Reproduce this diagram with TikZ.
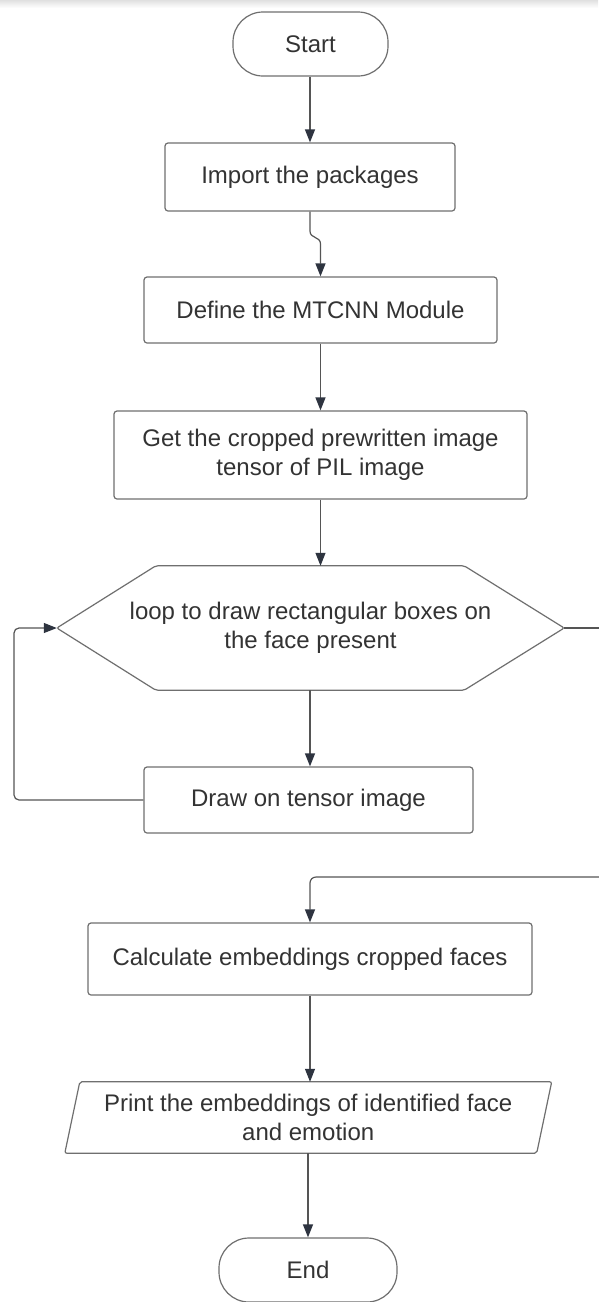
\documentclass[tikz,border=0pt]{standalone}
\usepackage{fontspec}
\setmainfont{Liberation Sans}
\usetikzlibrary{arrows.meta,calc}
\definecolor{edge}{HTML}{6F6F6F}
\definecolor{wirec}{HTML}{555555}
\definecolor{tipc}{HTML}{2E3440}
\definecolor{ink}{HTML}{333333}
\begin{document}
\begin{tikzpicture}[x=1pt,y=-1pt, font=\fontsize{24}{29.5}\selectfont, text=ink,
 box/.style={draw=edge, line width=1.2pt, rounded corners=3pt, inner sep=0pt, align=center},
 term/.style={box, rounded corners=30pt},
 bare/.style={inner sep=0pt, align=center},
 shapeline/.style={draw=edge, line width=1.2pt, rounded corners=2pt},
 arr/.style={draw=wirec, line width=1.2pt, -{Triangle[length=13pt,width=10pt,color=tipc]}},
 wire/.style={draw=wirec, line width=1.2pt}]
\fill[white] (0,0) rectangle (598,1302);
\shade[top color=black!12, bottom color=white] (0,0) rectangle (598,8);
\useasboundingbox (0,0) rectangle (598,1302);

\node[term, minimum width=155pt, minimum height=64pt] (start) at (310.5,44) {Start};
\node[box, minimum width=290pt, minimum height=68pt] (import) at (310,177) {Import the packages};
\node[box, minimum width=353pt, minimum height=66pt] (define) at (320.5,310) {Define the MTCNN Module};
\node[box, minimum width=413pt, minimum height=88pt] (get) at (320.5,455) {Get the cropped prewritten image\\tensor of PIL image};
\node[bare, minimum width=507pt, minimum height=124pt] (hex) at (310.5,628) {loop to draw rectangular boxes on\\the face present};
\draw[shapeline] (hex.west) -- ([xshift=99pt]hex.north west) -- ([xshift=-100pt]hex.north east) -- (hex.east) -- ([xshift=-100pt]hex.south east) -- ([xshift=99pt]hex.south west) -- cycle;
\node[box, minimum width=329pt, minimum height=66pt] (drawbox) at (308.5,800) {Draw on tensor image};
\node[box, minimum width=444pt, minimum height=72pt] (calc) at (310,959) {Calculate embeddings cropped faces};
\node[bare, minimum width=471.5pt, minimum height=71pt] (print) at (308.25,1117.5) {Print the embeddings of identified face\\and emotion};
\draw[shapeline] ([xshift=7.5pt]print.north west) -- ([xshift=7.5pt]print.north east) -- ([xshift=-7.5pt]print.south east) -- ([xshift=-7.5pt]print.south west) -- cycle;
\node[term, minimum width=178pt, minimum height=64pt] (end) at (308,1270) {End};

\coordinate (k1) at (310,231);
\coordinate (k2) at (320.5,244);
\coordinate (loopL) at (14,0);
\coordinate (rimA) at (600,628);
\coordinate (rimB) at (600,877);

\draw[arr] (start.south -| import.north) -- (import.north);
\draw[arr] (import.south) -- (k1) .. controls (310,239) and (320.5,236) .. (k2) -- (define.north);
\draw[arr] (define.south) -- (get.north);
\draw[arr] (get.south) -- (get.south |- hex.north);
\draw[arr] (hex.south -| drawbox.north) ++(1.5,0) -- ($(drawbox.north)+(1.5,0)$);
\draw[arr, rounded corners=5pt] (drawbox.west) -- (drawbox.west -| loopL) -- (hex.west -| loopL) -- (hex.west);
\draw[wire] (hex.east) -- (rimA);
\draw[arr, rounded corners=6pt] (rimB) -- (calc.north |- rimB) -- (calc.north);
\draw[arr] (calc.south) -- (calc.south |- print.north);
\draw[arr] (print.south -| end.north) -- (end.north);
\end{tikzpicture}
\end{document}
